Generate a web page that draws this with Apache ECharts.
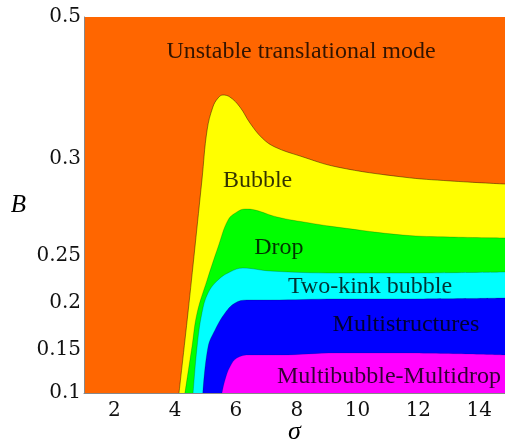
<!DOCTYPE html>
<html>
<head>
<meta charset="utf-8">
<script src="https://cdn.jsdelivr.net/npm/echarts@6/dist/echarts.min.js"></script>
<style>
  html, body { margin: 0; padding: 0; background: #fff; }
  #chart { width: 505px; height: 445px; }
</style>
</head>
<body>
<div id="chart"></div>
<script>
// Tick labels
const sigmaTicks = [2, 4, 6, 8, 10, 12, 14];
const bTicks = [0.1, 0.15, 0.2, 0.25, 0.3, 0.5];
const bTickLabels = ['0.1', '0.15', '0.2', '0.25', '0.3', '0.5'];
// The B axis is piecewise linear: each tick sits at this axis position
const bTickPos = [0, 43, 90, 137, 234, 376];

// Upper boundary of each region (sigma, B)
const bubbleSigma = [4.125, 4.42, 4.65, 4.88, 5.05, 5.24, 5.41, 5.57, 5.80, 6.13, 6.46, 6.86, 7.28, 8.11, 9.32, 11.49, 13.04, 14.85];
const bubbleB     = [0.1, 0.1894, 0.2546, 0.2892, 0.3408, 0.3732, 0.3859, 0.3901, 0.3873, 0.3732, 0.3507, 0.3296, 0.3169, 0.3042, 0.2959, 0.2907, 0.2887, 0.2871];

const dropSigma = [4.32, 4.55, 4.72, 5.05, 5.41, 5.74, 6.03, 6.30, 6.63, 7.35, 8.43, 9.32, 11.49, 13.04, 14.85];
const dropB     = [0.1, 0.1532, 0.1894, 0.2245, 0.2546, 0.2686, 0.2727, 0.2742, 0.2737, 0.2701, 0.2670, 0.2649, 0.2608, 0.2598, 0.2593];

const twoKinkSigma = [4.59, 4.72, 4.88, 5.08, 5.41, 5.80, 6.23, 7.12, 9.32, 11.49, 14.85];
const twoKinkB     = [0.1, 0.1532, 0.1894, 0.2106, 0.2245, 0.2330, 0.2372, 0.2340, 0.2319, 0.2319, 0.2330];

const multiSigma = [4.91, 5.08, 5.31, 5.64, 5.97, 6.36, 7.12, 9.32, 11.49, 14.85];
const multiB     = [0.1, 0.1532, 0.1713, 0.1894, 0.2, 0.2032, 0.2032, 0.2043, 0.2043, 0.2053];

const mbmdSigma = [5.54, 5.64, 5.80, 6.03, 6.46, 7.45, 9.32, 11.49, 14.85];
const mbmdB     = [0.1, 0.1151, 0.1302, 0.1407, 0.1442, 0.1442, 0.1465, 0.1465, 0.1442];

// Region names and where they are written (sigma, B)
const regionNames = ['Unstable translational mode', 'Bubble', 'Drop', 'Two-kink bubble', 'Multistructures', 'Multibubble-Multidrop'];
const regionSigma = [8.14, 6.71, 7.41, 10.41, 11.59, 11.03];
const regionB     = [0.4507, 0.2887, 0.2541, 0.2170, 0.1766, 0.1186];

// Map a B value onto the piecewise-linear axis
function toAxis(b) {
  for (let i = 0; i < bTicks.length - 1; i++) {
    if (b <= bTicks[i + 1] || i === bTicks.length - 2) {
      const t = (b - bTicks[i]) / (bTicks[i + 1] - bTicks[i]);
      return bTickPos[i] + t * (bTickPos[i + 1] - bTickPos[i]);
    }
  }
}

function region(name, sig, bs, color, edge) {
  return {
    name: name,
    type: 'line',
    data: sig.map((s, i) => [s, toAxis(bs[i])]),
    smooth: 0.4,
    symbol: 'none',
    lineStyle: { color: edge, width: 0.7 },
    areaStyle: { color: color, opacity: 1, origin: 'start' },
    silent: true,
    animation: false
  };
}

const serif = 'Liberation Serif';
const chart = echarts.init(document.getElementById('chart'), null, { renderer: 'canvas' });

chart.setOption({
  animation: false,
  grid: {
    left: 84, right: 0, top: 17, bottom: 52,
    outerBoundsMode: 'none', containLabel: false,
    show: true, backgroundColor: '#FF6600', borderWidth: 0
  },
  xAxis: {
    type: 'value', min: 1, max: 14.85,
    name: 'σ', nameLocation: 'middle', nameGap: 26, nameMoveOverlap: false,
    nameTextStyle: { fontFamily: serif, fontStyle: 'italic', fontSize: 26, color: '#000' },
    axisLine: { show: true, lineStyle: { color: '#888', width: 1 } },
    axisTick: { show: false },
    splitLine: { show: false },
    axisLabel: {
      customValues: sigmaTicks,
      fontFamily: 'DejaVu Serif', fontSize: 20, color: '#111', margin: 8
    }
  },
  yAxis: {
    type: 'value', min: bTickPos[0], max: bTickPos[bTickPos.length - 1],
    name: 'B', nameLocation: 'middle', nameGap: 58, nameRotate: 0, nameMoveOverlap: false,
    nameTextStyle: { fontFamily: serif, fontStyle: 'italic', fontSize: 25, color: '#000' },
    axisLine: { show: true, lineStyle: { color: '#888', width: 1 } },
    axisTick: { show: false },
    splitLine: { show: false },
    axisLabel: {
      customValues: bTickPos,
      formatter: v => {
        const i = bTickPos.findIndex(p => Math.abs(p - v) < 1e-6);
        return i >= 0 ? bTickLabels[i] : '';
      },
      fontFamily: 'DejaVu Serif', fontSize: 20, color: '#111', margin: 3
    }
  },
  series: [
    region('Bubble', bubbleSigma, bubbleB, '#FFFF00', 'rgba(0,0,0,0.6)'),
    region('Drop', dropSigma, dropB, '#00FF00', 'rgba(0,0,0,0.3)'),
    region('Two-kink bubble', twoKinkSigma, twoKinkB, '#00FFFF', 'rgba(0,0,0,0.3)'),
    region('Multistructures', multiSigma, multiB, '#0000FF', 'rgba(0,0,0,0.3)'),
    region('Multibubble-Multidrop', mbmdSigma, mbmdB, '#FF00FF', 'rgba(0,0,0,0.2)'),
    {
      type: 'scatter',
      symbolSize: 0,
      silent: true,
      z: 10,
      data: regionNames.map((n, i) => ({ name: n, value: [regionSigma[i], toAxis(regionB[i])] })),
      label: {
        show: true, position: 'inside',
        formatter: p => p.name,
        fontFamily: serif, fontSize: 24, color: '#000'
      }
    }
  ]
});
</script>
</body>
</html>
